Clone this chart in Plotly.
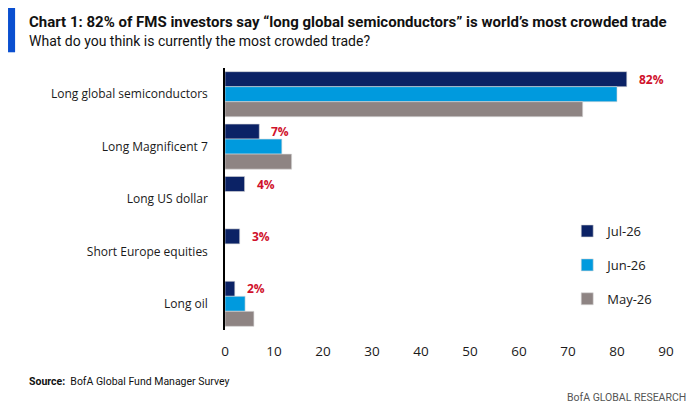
import plotly.graph_objects as go

# Chart data
categories = ['Long global semiconductors', 'Long Magnificent 7', 'Long US dollar',
              'Short Europe equities', 'Long oil']
jul_26 = [82, 7, 4, 3, 2]
jun_26 = [80, 11.6, None, None, 4.1]
may_26 = [73, 13.6, None, None, 5.9]
jul_labels = ['82%', '7%', '4%', '3%', '2%']
x_ticks = [0, 10, 20, 30, 40, 50, 60, 70, 80, 90]

navy = '#0B2265'
light_blue = '#009ADE'
grey = '#8E8483'
red = '#D0112B'
body_font = 'Open Sans'
head_font = 'Roboto'

fig = go.Figure()

series = [('Jul-26', jul_26, navy), ('Jun-26', jun_26, light_blue), ('May-26', may_26, grey)]
for name, vals, col in series:
    fig.add_trace(go.Bar(
        y=categories, x=vals, name=name, orientation='h',
        marker=dict(color=col, line=dict(color='#D9D9D9', width=0.6)),
        legendgroup=name,
    ))

# red value labels next to the Jul-26 bars
for cat, v, lab in zip(categories, jul_26, jul_labels):
    fig.add_annotation(x=v, y=cat, text='<b>' + lab + '</b>', showarrow=False,
                       xanchor='left', xshift=10, yshift=15,
                       font=dict(family=body_font, size=12, color=red))

# title block
fig.add_shape(type='rect', xref='paper', yref='paper', x0=-0.492, x1=-0.476,
              y0=1.06, y1=1.229, fillcolor='#0A4FD0', line_width=0)
fig.add_annotation(xref='paper', yref='paper', x=-0.449, y=1.176, xanchor='left',
                   yanchor='middle', showarrow=False,
                   text='<b>Chart 1: 82% of FMS investors say \u201clong global semiconductors\u201d is world\u2019s most crowded trade</b>',
                   font=dict(family=head_font, size=15, color='#111111'))
fig.add_annotation(xref='paper', yref='paper', x=-0.449, y=1.103, xanchor='left',
                   yanchor='middle', showarrow=False,
                   text='What do you think is currently the most crowded trade?',
                   font=dict(family=head_font, size=14, color='#111111'))

# footer
fig.add_annotation(xref='paper', yref='paper', x=-0.449, y=-0.195, xanchor='left',
                   yanchor='middle', showarrow=False,
                   text='<b>Source:</b>  BofA Global Fund Manager Survey',
                   font=dict(family=head_font, size=10.5, color='#111111'))
fig.add_annotation(xref='paper', yref='paper', x=1.05, y=-0.256, xanchor='right',
                   yanchor='middle', showarrow=False,
                   text='BofA GLOBAL RESEARCH',
                   font=dict(family=head_font, size=10.5, color='#555555'))

# page body has an 8px margin, so the figure is drawn 8px smaller
fig.update_layout(
    width=692, height=411,
    margin=dict(l=217, r=34, t=60, b=89),
    paper_bgcolor='white', plot_bgcolor='white',
    barmode='group', bargap=0.14, bargroupgap=0,
    font=dict(family=body_font, size=12.5, color='#1a1a1a'),
    legend=dict(x=0.776, y=0.435, xanchor='left', yanchor='top',
                traceorder='grouped', tracegroupgap=14, itemwidth=30,
                font=dict(family=body_font, size=13, color='#1a1a1a'),
                bgcolor='rgba(0,0,0,0)'),
)
fig.update_xaxes(range=[0, 90], tickvals=x_ticks, showgrid=False, zeroline=False,
                 showline=False, ticks='', ticklabelstandoff=11, tickfont=dict(size=13.5))
fig.update_yaxes(autorange='reversed', showgrid=False, showline=True,
                 linecolor='black', linewidth=1.5, ticks='', ticklabelstandoff=13,
                 tickfont=dict(size=12))

fig.write_html('out.html')
